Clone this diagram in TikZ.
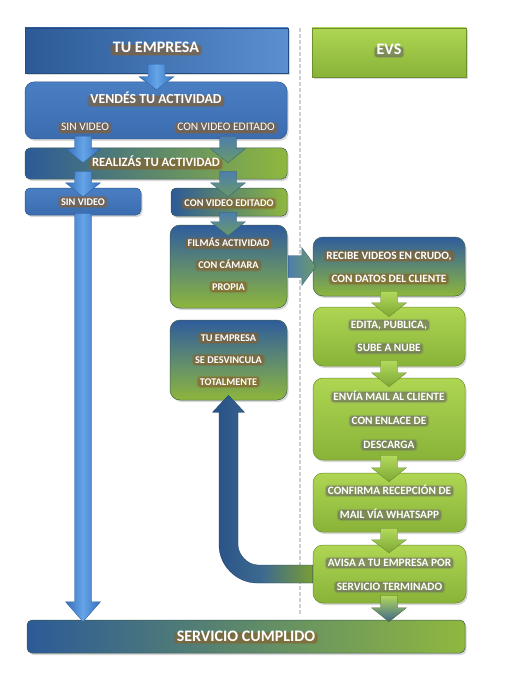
\documentclass[tikz,border=0pt]{standalone}
\usepackage{fontspec}
\setmainfont{Carlito}
\usetikzlibrary{calc,shadows}
\definecolor{glowb}{HTML}{8A5F2A}
\definecolor{glowg}{HTML}{6E6E62}
\definecolor{bdark}{HTML}{2C5A97}
\definecolor{blight}{HTML}{5A8FD0}
\definecolor{bmid}{HTML}{4A7EC3}
\definecolor{bmid2}{HTML}{3B6CB0}
\definecolor{gtop}{HTML}{AED653}
\definecolor{gbot}{HTML}{88B338}
\definecolor{gmid}{HTML}{8FB83E}
\definecolor{mixtop}{HTML}{2F5C9C}
\definecolor{mixmid}{HTML}{5E8A70}
\definecolor{mixbot}{HTML}{8DB63C}
\definecolor{abl1}{HTML}{3470BC}
\definecolor{abl2}{HTML}{66A4E8}
\definecolor{ateal1}{HTML}{4D7EAE}
\definecolor{ateal2}{HTML}{6A9A66}
\definecolor{agr1}{HTML}{B2DA5C}
\definecolor{agr2}{HTML}{7EA836}
\definecolor{dashc}{HTML}{CFCFCF}
\newcommand\fs[1]{\fontsize{#1}{#1}\selectfont}
% vertical block arrow: style, x reference, start, tip, head length
\newcommand\varr[5][]{\path[#1] let \p3=(#2), \p1=(#3), \p2=(#4) in
  (\x3-8.5pt,\y1) -- (\x3+8.5pt,\y1) -- (\x3+8.5pt,\y2+#5) -- (\x3+17.5pt,\y2+#5)
  -- (\x3,\y2) -- (\x3-17.5pt,\y2+#5) -- (\x3-8.5pt,\y2+#5) -- cycle;}
\tikzset{
  shad/.style={drop shadow={shadow xshift=1.5pt,shadow yshift=-2pt,opacity=0.3}},
  box/.style={shad, inner sep=0pt, line width=0.5pt},
  topbox/.style={box, left color=bdark, right color=blight, draw=bdark!85!black},
  evsbox/.style={box, top color=gtop, bottom color=gbot, draw=gbot!80!black},
  midblue/.style={box, top color=bmid, bottom color=bmid2, draw=bmid2!80!black},
  hmix/.style={box, left color=bdark, right color=gmid, draw=bdark!60!gmid!70!black},
  vmix/.style={box, rounded corners=10pt, top color=mixtop, bottom color=mixbot, middle color=mixmid, draw=mixmid!70!black},
  grbox/.style={box, rounded corners=10pt, top color=gtop, bottom color=gbot, draw=gbot!80!black},
  glw/.style={text=white, inner xsep=1.8pt, inner ysep=1.2pt, text height=0.66em, text depth=0.06em,
    rounded corners=2.5pt, fill=#1, fill opacity=0.62, text opacity=1,
    preaction={draw=#1, draw opacity=0.28, line width=2.6pt}},
  tb/.style={glw=glowb},
  tg/.style={glw=glowg},
  barr/.style={left color=abl1, right color=abl1, middle color=abl2, draw=abl1!80!black, line width=0.3pt},
  marr/.style={top color=ateal1, bottom color=ateal2, draw=ateal1!70!black, line width=0.3pt},
  garr/.style={top color=agr1, bottom color=agr2, draw=agr2!80!black, line width=0.3pt},
  earr/.style={top color=agr1, bottom color=ateal1!80!black, draw=agr2!60!black, line width=0.3pt},
  harr/.style={left color=ateal1, right color=ateal2, draw=ateal1!70!black, line width=0.3pt},
  bigarr/.style={left color=bdark!90!black, right color=gmid!85!black, middle color=mixtop!70!mixmid, draw=bdark!70!black, line width=0.3pt},
  dashline/.style={draw=dashc, line width=1.2pt, dash pattern=on 4pt off 2pt}
}
\begin{document}
\begin{tikzpicture}[x=1pt,y=-1pt]
\useasboundingbox (0,0) rectangle (512,695);
\fill[white] (0,0) rectangle (512,695);
\coordinate (dtop) at (300,28);
\coordinate (dbot) at (300,616);
\draw[dashline] (dtop) -- (dbot);
\coordinate (xL) at (83,0);
\coordinate (xR) at (228,0);
\coordinate (xE) at (389,0);

% boxes
\node[topbox, minimum width=263pt, minimum height=45pt] (tuemp) at (156.5,50.5) {};
\node[evsbox, minimum width=154pt, minimum height=49pt] (evs) at (389,52.5) {};
\node[midblue, rounded corners=9pt, minimum width=262pt, minimum height=57pt] (vend) at (156,110.5) {};
\node[hmix, rounded corners=5pt, minimum width=262pt, minimum height=31pt] (real) at (156,163.5) {};
\node[box, top color=bmid, bottom color=bmid2, draw=bmid2!80!black, rounded corners=5pt, minimum width=116pt, minimum height=27pt] (sinv) at (83,201.5) {};
\node[hmix, rounded corners=5pt, minimum width=116pt, minimum height=28pt] (conv) at (229,202) {};
\node[vmix, minimum width=117pt, minimum height=83pt] (film) at (228.5,266.5) {};
\node[vmix, minimum width=117pt, minimum height=80pt] (desv) at (228.5,360) {};
\node[vmix, minimum width=152pt, minimum height=59pt] (recibe) at (389,266.5) {};
\node[grbox, minimum width=152pt, minimum height=59pt] (edita) at (389,336.5) {};
\node[grbox, minimum width=152pt, minimum height=82pt] (envia) at (389,419) {};
\node[grbox, minimum width=153pt, minimum height=59pt] (conf) at (389.5,502.5) {};
\node[grbox, minimum width=153pt, minimum height=58pt] (avisa) at (389.5,574) {};
\node[hmix, rounded corners=5pt, minimum width=438pt, minimum height=33pt] (cumpl) at (246,636.5) {};

% texts
\node[tb, font=\fs{16}\bfseries] (t-tuemp) at (156,50) {TU EMPRESA};
\node[tg, font=\fs{16}\bfseries] (t-evs) at (389,52) {EVS};
\node[tb, font=\fs{13.8}\bfseries] (t-vend) at (156,101) {VENDÉS TU ACTIVIDAD};
\node[tb, font=\fs{11.5}] (t-vsin) at (85,128) {SIN VIDEO};
\node[tb, font=\fs{11.5}] (t-vcon) at (226,128) {CON VIDEO EDITADO};
\node[tb, font=\fs{12.7}\bfseries] (t-real) at (156,164) {REALIZÁS TU ACTIVIDAD};
\node[tb, font=\fs{10.3}\bfseries] (t-sinv) at (83,202) {SIN VIDEO};
\node[tb, font=\fs{10.3}\bfseries] (t-conv) at (229,203.5) {CON VIDEO EDITADO};
\node[tb, font=\fs{10.3}\bfseries] (t-film1) at (228.5,243.5) {FILMÁS ACTIVIDAD};
\node[tb, font=\fs{10.3}\bfseries] (t-film2) at (228.5,265.5) {CON CÁMARA};
\node[tb, font=\fs{10.3}\bfseries] (t-film3) at (228.5,287) {PROPIA};
\node[tb, font=\fs{10.3}\bfseries] (t-desv1) at (228.5,338) {TU EMPRESA};
\node[tb, font=\fs{10.3}\bfseries] (t-desv2) at (228.5,360) {SE DESVINCULA};
\node[tb, font=\fs{10.3}\bfseries] (t-desv3) at (228.5,382) {TOTALMENTE};
\node[tb, font=\fs{11.3}\bfseries] (t-rec1) at (389,256) {RECIBE VIDEOS EN CRUDO,};
\node[tb, font=\fs{11.3}\bfseries] (t-rec2) at (389,279) {CON DATOS DEL CLIENTE};
\node[tg, font=\fs{11.3}\bfseries] (t-edi1) at (389,325) {EDITA, PUBLICA,};
\node[tg, font=\fs{11.3}\bfseries] (t-edi2) at (389,348.5) {SUBE A NUBE};
\node[tg, font=\fs{11.3}\bfseries] (t-env1) at (389,397) {ENVÍA MAIL AL CLIENTE};
\node[tg, font=\fs{11.3}\bfseries] (t-env2) at (389,421) {CON ENLACE DE};
\node[tg, font=\fs{11.3}\bfseries] (t-env3) at (389,445) {DESCARGA};
\node[tg, font=\fs{11.3}\bfseries] (t-con1) at (389.5,491) {CONFIRMA RECEPCIÓN DE};
\node[tg, font=\fs{11.3}\bfseries] (t-con2) at (389.5,515) {MAIL VÍA WHATSAPP};
\node[tg, font=\fs{11.3}\bfseries] (t-avi1) at (389.5,563) {AVISA A TU EMPRESA POR};
\node[tg, font=\fs{11.3}\bfseries] (t-avi2) at (389.5,587) {SERVICIO TERMINADO};
\node[tb, font=\fs{16}\bfseries] (t-cumpl) at (246,638) {SERVICIO CUMPLIDO};

% block arrows
\varr[barr]{tuemp.south}{[yshift=9pt]tuemp.south}{[yshift=-8pt]vend.north}{13pt}
\varr[barr]{xL}{[yshift=3pt]vend.south}{[yshift=-15pt]real.north}{14pt}
\varr[marr]{xR}{[yshift=3pt]vend.south}{[yshift=-15pt]real.north}{14pt}
\varr[barr]{xL}{[yshift=8pt]real.south}{[yshift=-9pt]sinv.north}{14pt}
\varr[marr]{xR}{[yshift=8pt]real.south}{[yshift=-9pt]conv.north}{14pt}
\varr[barr]{xL}{[yshift=2pt]sinv.south}{[yshift=-2pt]cumpl.north}{20pt}
\varr[marr]{xR}{[yshift=4pt]conv.south}{[yshift=-11pt]film.north}{14pt}
\varr[garr]{xE}{[yshift=5pt]recibe.south}{[yshift=-10pt]edita.north}{14pt}
\varr[garr]{xE}{[yshift=6pt]edita.south}{[yshift=-9pt]envia.north}{14pt}
\varr[garr]{xE}{[yshift=5pt]envia.south}{[yshift=-9pt]conf.north}{14pt}
\varr[garr]{xE}{[yshift=4pt]conf.south}{[yshift=-8pt]avisa.north}{13pt}
\varr[earr]{xE}{[yshift=8pt]avisa.south}{[yshift=-2pt]cumpl.north}{14pt}

\path[harr] let \p1=(film.east), \p2=(recibe.west) in
  (\x1+1pt,\y1+11pt) -- (\x2-11pt,\y1+11pt) -- (\x2-11pt,\y1+19pt) -- (\x2+3pt,\y1)
  -- (\x2-11pt,\y1-19pt) -- (\x2-11pt,\y1-11pt) -- (\x1+1pt,\y1-11pt) -- cycle;

\path[bigarr] let \p1=(avisa.west), \p2=(desv.south) in
  (\x1,\y1+9pt) -- (\x2+29.5pt,\y1+9pt)
  .. controls (\x2+18.5pt,\y1+9pt) and (\x2+9.5pt,\y1+20pt) .. (\x2+9.5pt,\y1+29pt)
  -- (\x2+9.5pt,\y2-12pt) -- (\x2+16pt,\y2-12pt) -- (\x2,\y2+5pt) -- (\x2-16pt,\y2-12pt)
  -- (\x2-9.5pt,\y2-12pt) -- (\x2-9.5pt,\y1+29pt)
  .. controls (\x2-9.5pt,\y1+8pt) and (\x2+8.5pt,\y1-9pt) .. (\x2+28.5pt,\y1-9pt)
  -- (\x1,\y1-9pt) -- cycle;
\end{tikzpicture}
\end{document}
